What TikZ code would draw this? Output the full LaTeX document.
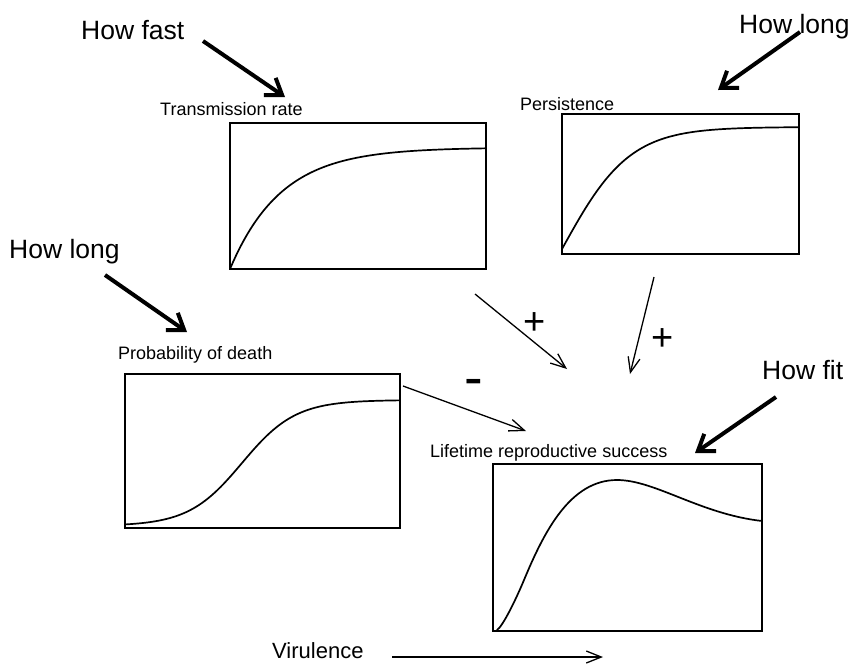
\documentclass[tikz,border=0pt]{standalone}
\usepackage{fontspec}
\setmainfont{Liberation Sans}
\usetikzlibrary{arrows.meta}
\begin{document}
\begin{tikzpicture}[x=1pt,y=-1pt,
  box/.style={draw, line width=1.4pt, inner sep=0pt, outer sep=0pt, anchor=north west},
  curve/.style={line width=1.7pt, line join=round, line cap=round},
  thinarrow/.style={line width=1.3pt, -{Straight Barb[length=15pt,width=12pt]}},
  thickarrow/.style={line width=4pt, -{Straight Barb[length=15pt,width=21pt]}},
  big/.style={inner sep=0pt, anchor=base west, font=\fontsize{26.5}{30}\selectfont},
  small/.style={inner sep=0pt, anchor=base west, font=\fontsize{18}{21}\selectfont},
  sign/.style={inner sep=0pt, anchor=base west, font=\fontsize{38}{40}\selectfont},
  minussign/.style={inner sep=0pt, anchor=base west, font=\fontsize{56}{60}\selectfont}
]
\useasboundingbox (0,0) rectangle (853,664);

% boxes
\node[box, minimum width=256pt, minimum height=146pt] (trbox) at (230,123) {};
\node[box, minimum width=237pt, minimum height=140pt] (pebox) at (562,114) {};
\node[box, minimum width=275pt, minimum height=154pt] (pdbox) at (125,374) {};
\node[box, minimum width=269pt, minimum height=167pt] (lrbox) at (493,464) {};

% curves
\draw[curve] plot[domain=0:256, samples=90] ({230+\x},{269-121.5*(1-exp(-0.0195*\x))});
\draw[curve] plot[domain=0:237, samples=90] ({562+\x},{249-122*tanh(0.0148*\x)});
\draw[curve] plot[domain=125:400, samples=90] (\x,{526-126/(1+exp(-0.0374*(\x-242)))});
\draw[curve] (497,630) .. controls (503,626) and (516,599.2) .. (524,580)
                       .. controls (544,532) and (570,480) .. (617,480)
                       .. controls (655,480) and (700,514) .. (762,521);

% labels
\node[big] (howfast) at (81,39) {How fast};
\node[big] (howlongA) at (739,33) {How long};
\node[big] (howlongB) at (9,258) {How long};
\node[big] (howfit) at (762,379) {How fit};
\node[small] (trlab) at (160,115) {Transmission rate};
\node[small] (pelab) at (520,110) {Persistence};
\node[small] (pdlab) at (118,359) {Probability of death};
\node[small] (lrlab) at (430,457) {Lifetime reproductive success};
\node[inner sep=0pt, anchor=base west, font=\fontsize{22}{26}\selectfont] (virlab) at (272,658) {Virulence};
\node[sign] (plusA) at (523,334.5) {+};
\node[sign] (plusB) at (651,350.5) {+};
\node[minussign] (minus) at (464.5,396) {-};

% arrow end points
\coordinate (fastS) at (203,41);  \coordinate (fastE) at (285,97);
\coordinate (longAS) at (800,32); \coordinate (longAE) at (718,90);
\coordinate (longBS) at (105,275); \coordinate (longBE) at (187,332);
\coordinate (fitS) at (776,397);  \coordinate (fitE) at (695,453);
\coordinate (pAS) at (475,294);   \coordinate (pAE) at (567,369);
\coordinate (pBS) at (654,277);   \coordinate (pBE) at (630,374);
\coordinate (mS) at (403,386);    \coordinate (mE) at (526,431);
\coordinate (vS) at (392,657);    \coordinate (vE) at (603,657);

\draw[thickarrow] (fastS) -- (fastE);
\draw[thickarrow] (longAS) -- (longAE);
\draw[thickarrow] (longBS) -- (longBE);
\draw[thickarrow] (fitS) -- (fitE);
\draw[thinarrow] (pAS) -- (pAE);
\draw[thinarrow] (pBS) -- (pBE);
\draw[thinarrow] (mS) -- (mE);
\draw[thinarrow] (vS) -- (vE);
\end{tikzpicture}
\end{document}
